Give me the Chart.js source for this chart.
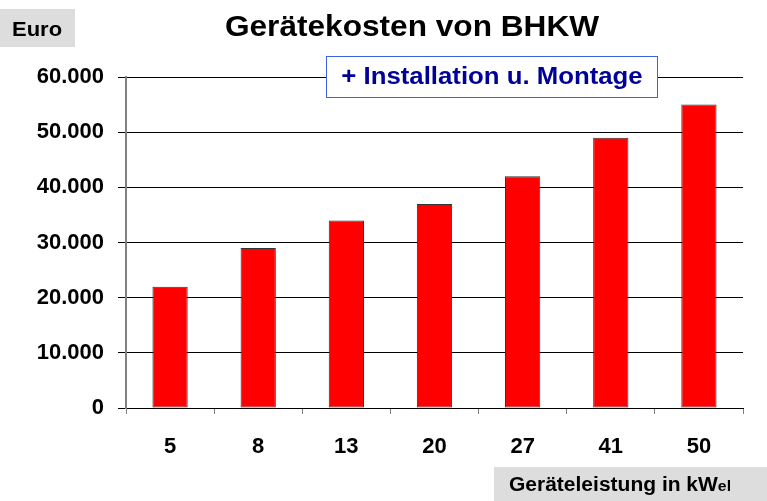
<!DOCTYPE html>
<html lang="de">
<head>
    <meta charset="UTF-8">
    <title>Gerätekosten von BHKW</title>
    <script src="https://cdn.jsdelivr.net/npm/chart.js"></script>
    <style>
        body { margin: 0; background: #ffffff; }
        #chart_bhkw { display: block; }
    </style>
</head>
<body>
    <canvas id="chart_bhkw" width="767" height="501"></canvas>
</body>
</html>
<script>
  // Geräteleistung (kWel) und Kosten in Euro
  var leistung = ['5', '8', '13', '20', '27', '41', '50'];
  var kosten = [22000, 29000, 34000, 37000, 42000, 49000, 55000];

  var titel = 'Gerätekosten von BHKW';
  var einheitY = 'Euro';
  var einheitX = 'Geräteleistung in kW';
  var hinweis = '+ Installation u. Montage';

  var fonte = 'Arial, "Liberation Sans", sans-serif';

  function formatEuro(v){
    return String(v).replace(/\B(?=(\d{3})+(?!\d))/g, '.');
  }

  // textos fora do grafico (titulo, caixas)
  var textosExtras = {
    id: 'textosExtras',
    afterDraw: function(chart){
      var ctx = chart.ctx;
      ctx.save();

      // titulo
      ctx.fillStyle = '#000000';
      ctx.font = 'bold 29px ' + fonte;
      ctx.textAlign = 'center';
      ctx.textBaseline = 'middle';
      ctx.save();
      ctx.translate(412, 28);
      ctx.scale(1.09, 1);
      ctx.fillText(titel, 0, 0);
      ctx.restore();

      // caixa Euro
      ctx.fillStyle = '#dddddd';
      ctx.fillRect(0, 9, 75, 38);
      ctx.fillStyle = '#000000';
      ctx.font = 'bold 20px ' + fonte;
      ctx.textAlign = 'left';
      ctx.save();
      ctx.translate(12, 30);
      ctx.scale(1.1, 1);
      ctx.fillText(einheitY, 0, 0);
      ctx.restore();

      // caixa eixo x
      ctx.fillStyle = '#dddddd';
      ctx.fillRect(494, 467, 273, 34);
      ctx.fillStyle = '#000000';
      ctx.font = 'bold 20px ' + fonte;
      ctx.textBaseline = 'alphabetic';
      ctx.save();
      ctx.translate(509, 491);
      ctx.scale(1.05, 1);
      ctx.fillText(einheitX, 0, 0);
      var w = ctx.measureText(einheitX).width;
      ctx.font = 'bold 15px ' + fonte;
      ctx.fillText('el', w, 0);
      ctx.restore();

      // caixa Installation
      ctx.fillStyle = '#ffffff';
      ctx.fillRect(326, 56, 332, 42);
      ctx.strokeStyle = '#3b63e0';
      ctx.lineWidth = 1;
      ctx.strokeRect(326.5, 56.5, 331, 41);
      ctx.fillStyle = '#000099';
      ctx.font = 'bold 23px ' + fonte;
      ctx.textAlign = 'center';
      ctx.textBaseline = 'middle';
      ctx.save();
      ctx.translate(492, 78);
      ctx.scale(1.12, 1);
      ctx.fillText(hinweis, 0, 0);
      ctx.restore();

      ctx.restore();
    }
  };

  const ctxBarra = document.getElementById('chart_bhkw');

  var grafico = new Chart(ctxBarra, {
    type: 'bar',
    data: {
      labels: leistung,
      datasets: [{
        label: 'Kosten',
        data: kosten,
        backgroundColor: '#ff0000',
        borderColor: '#333333',
        borderWidth: 1,
        borderSkipped: false,
        barPercentage: 0.4,
        categoryPercentage: 1.0
      }]
    },
    options: {
      responsive: false,
      animation: false,
      layout: {
        padding: { left: 0, top: 77, right: 24, bottom: 0 }
      },
      plugins: {
        legend: { display: false },
        title: { display: false },
        tooltip: { enabled: false }
      },
      scales: {
        x: {
          offset: true,
          grid: {
            offset: true,
            drawOnChartArea: false,
            drawTicks: true,
            tickLength: 6,
            tickColor: '#808080'
          },
          border: { display: true, color: '#000000', width: 1 },
          ticks: {
            color: '#000000',
            padding: 20,
            font: { family: fonte, size: 22, weight: 'bold' }
          },
          afterFit: function(s){ s.height = 93; }
        },
        y: {
          min: 0,
          max: 60000,
          grid: {
            color: '#000000',
            lineWidth: 1,
            drawTicks: true,
            tickLength: 8,
            tickColor: '#000000'
          },
          border: { display: true, color: '#808080', width: 2 },
          ticks: {
            stepSize: 10000,
            color: '#000000',
            padding: 14,
            font: { family: fonte, size: 22, weight: 'bold' },
            callback: function(v){ return formatEuro(v); }
          },
          afterFit: function(s){ s.width = 126; }
        }
      }
    },
    plugins: [textosExtras]
  });
</script>
